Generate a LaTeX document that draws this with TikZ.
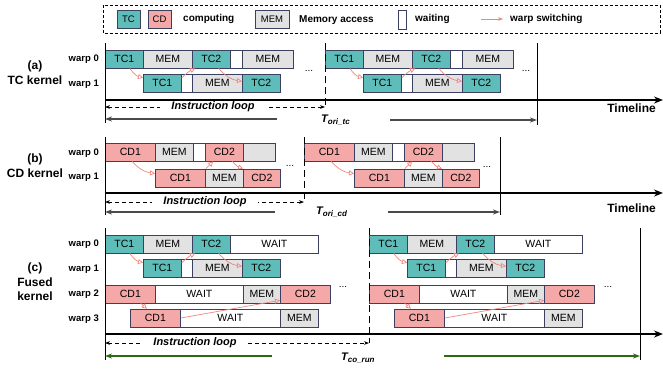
\documentclass[tikz,border=0pt]{standalone}
\usepackage{fontspec}
\setmainfont{Liberation Sans}
\usetikzlibrary{arrows.meta}
\definecolor{tccol}{HTML}{5FBDB9}
\definecolor{cdcol}{HTML}{F5A8A8}
\definecolor{memcol}{HTML}{E2E2E2}
\definecolor{edge}{HTML}{3C4060}
\definecolor{swcol}{HTML}{F2857E}
\definecolor{loopgreen}{HTML}{2E6A12}
\definecolor{loopgray}{HTML}{4A4A4A}
\newcommand{\tsub}[1]{\raisebox{-0.35ex}{\fontsize{8}{9}\selectfont #1}}
\tikzset{
  seg/.style={draw=edge, line width=0.8pt, anchor=west, minimum height=18pt, inner sep=0pt, font=\fontsize{10.5}{12}\selectfont},
  legbox/.style={draw=edge, line width=0.8pt, minimum height=18pt, inner sep=0pt, font=\fontsize{9.5}{11}\selectfont},
  legtext/.style={anchor=west, inner sep=0pt, font=\bfseries\fontsize{10}{12}\selectfont},
  warplbl/.style={anchor=east, inner sep=0pt, font=\bfseries\fontsize{9.5}{11}\selectfont},
  kernlbl/.style={align=center, inner sep=0pt, font=\bfseries\fontsize{12}{14.5}\selectfont},
  looplbl/.style={fill=white, inner xsep=11pt, inner ysep=1pt, font=\bfseries\itshape\fontsize{11}{13}\selectfont},
  tlbl/.style={anchor=west, inner sep=0pt, font=\bfseries\itshape\fontsize{11}{13}\selectfont},
  timelbl/.style={anchor=east, inner sep=0pt, font=\bfseries\fontsize{12}{14}\selectfont},
  dotlbl/.style={anchor=base, inner sep=0pt, font=\fontsize{10}{12}\selectfont},
  swarrow/.style={-{Triangle[open, length=5pt, width=5pt]}, draw=swcol, line width=0.7pt},
  axisline/.style={draw=black, line width=0.9pt},
  timeline/.style={draw=black, line width=2.2pt, -{Stealth[length=9pt, width=7pt]}},
  loopline/.style={line width=0.8pt, dash pattern=on 4pt off 3pt, {Stealth[length=5pt]}-{Stealth[length=5pt]}},
  startmark/.style={draw=black, line width=0.9pt, dash pattern=on 7pt off 4pt},
  endmark/.style={draw=black, line width=0.9pt},
  spanarrow/.style={line width=1.2pt, -{Stealth[length=7pt, width=5pt]}}
}

\begin{document}
\begin{tikzpicture}[x=1pt, y=-1pt]
  \useasboundingbox (0,0) rectangle (663,368);

  % legend
  \coordinate (lg-nw) at (103,5);
  \coordinate (lg-se) at (660,33);
  \draw[line width=0.8pt, dash pattern=on 3pt off 2pt] (lg-nw) rectangle (lg-se);
  \node[legbox, fill=tccol, minimum width=23pt] (lg-tc) at (128.5,19) {TC};
  \node[legbox, fill=cdcol, minimum width=23pt] (lg-cd) at (159.5,19) {CD};
  \node[legtext] (lg-comp) at (183,19) {computing};
  \node[legbox, fill=memcol, minimum width=34pt] (lg-mem) at (272,19) {MEM};
  \node[legtext] (lg-memtxt) at (299,20) {Memory access};
  \node[legbox, fill=white, minimum width=8pt, minimum height=19pt] (lg-wait) at (402,19.5) {};
  \node[legtext] (lg-waittxt) at (415,19) {waiting};
  \node[legtext] (lg-swtxt) at (510,19) {warp switching};
  \coordinate (lg-a1) at (481,19);
  \draw[swcol, line width=0.9pt, -{Stealth[length=5pt]}] (lg-a1) -- ([xshift=-7pt]lg-swtxt.west);

  % (a) TC kernel
  \node[kernlbl] (a-name) at (35,72.5) {(a)\\TC kernel};
  \node[warplbl] (a-w0) at (99,59) {warp 0};
  \node[warplbl] (a-w1) at (99,84) {warp 1};
  \foreach \sn/\dx in {1/105, 2/325} {
    \foreach \px/\pw/\pc/\pl/\pn in {0/38/tccol/TC1/tc1, 38/49/memcol/MEM/m1, 87/38/tccol/TC2/tc2, 125/12/white//w, 137/51/memcol/MEM/m2}
      \node[seg, fill=\pc, minimum width=\pw pt] (a\sn-w0\pn) at (\dx+\px,59) {\pl};
    \foreach \px/\pw/\pc/\pl/\pn in {38/38/tccol/TC1/tc1, 76/11/white//w, 87/50/memcol/MEM/m1, 137/38/tccol/TC2/tc2}
      \node[seg, fill=\pc, minimum width=\pw pt] (a\sn-w1\pn) at (\dx+\px,83) {\pl};
    \draw[swarrow] (a\sn-w0tc1.300) to[bend right=20] (a\sn-w1tc1.165);
    \draw[swarrow] (a\sn-w1tc1.15) to[bend left=10] (a\sn-w0tc2.210);
    \draw[swarrow] (a\sn-w0tc2.308) to[bend right=20] (a\sn-w1tc2.175);
  }
  \node[dotlbl] (a-dots1) at (309,71) {...};
  \node[dotlbl] (a-dots2) at (526,71) {...};
  \coordinate (a-top) at (105,43);
  \coordinate (a-org) at (105,100);
  \coordinate (a-bot) at (105,123);
  \coordinate (a-end) at (663,100);
  \draw[axisline] (a-top) -- (a-bot);
  \draw[timeline] (a-org) -- (a-end);
  \coordinate (a-m1) at (325,43);
  \coordinate (a-m2) at (325,108);
  \draw[startmark] (a-m1) -- (a-m2);
  \coordinate (a-e1) at (537,43);
  \coordinate (a-e2) at (537,125);
  \draw[endmark] (a-e1) -- (a-e2);
  \node[timelbl] (a-time) at (656,108) {Timeline};
  \coordinate (a-l1) at (105,107);
  \coordinate (a-l2) at (325,107);
  \draw[loopline] (a-l1) -- (a-l2);
  \node[looplbl] (a-loop) at (213,107) {Instruction loop};
  \node[tlbl] (a-t) at (321,120) {T\tsub{ori\_tc}};
  \coordinate (a-s1) at (277,119);
  \coordinate (a-s2) at (105,119);
  \coordinate (a-s3) at (390,120);
  \coordinate (a-s4) at (537,120);
  \draw[spanarrow, loopgray] (a-s1) -- (a-s2);
  \draw[spanarrow, loopgray] (a-s3) -- (a-s4);

  % (b) CD kernel
  \node[kernlbl] (b-name) at (35,165.5) {(b)\\CD kernel};
  \node[warplbl] (b-w0) at (99,153) {warp 0};
  \node[warplbl] (b-w1) at (99,177) {warp 1};
  \foreach \sn/\dx in {1/105, 2/304} {
    \foreach \px/\pw/\pc/\pl/\pn in {0/50/cdcol/CD1/cd1, 50/38/memcol/MEM/m1, 88/12/white//w, 100/38/cdcol/CD2/cd2, 138/32/memcol//m2}
      \node[seg, fill=\pc, minimum width=\pw pt] (b\sn-w0\pn) at (\dx+\px,152) {\pl};
    \foreach \px/\pw/\pc/\pl/\pn in {50/50/cdcol/CD1/cd1, 100/38/memcol/MEM/m1, 138/37/cdcol/CD2/cd2}
      \node[seg, fill=\pc, minimum width=\pw pt] (b\sn-w1\pn) at (\dx+\px,178) {\pl};
    \draw[swarrow] (b\sn-w0cd1.280) to[bend right=20] (b\sn-w1cd1.170);
    \draw[swarrow] (b\sn-w1cd1.north east) -- (b\sn-w0cd2.220);
    \draw[swarrow] (b\sn-w0cd2.310) to[bend right=15] (b\sn-w1cd2.north west);
  }
  \node[dotlbl] (b-dots1) at (290,166) {...};
  \node[dotlbl] (b-dots2) at (487,167) {...};
  \coordinate (b-top) at (105,137);
  \coordinate (b-org) at (105,193);
  \coordinate (b-bot) at (105,215);
  \coordinate (b-end) at (663,193);
  \draw[axisline] (b-top) -- (b-bot);
  \draw[timeline] (b-org) -- (b-end);
  \coordinate (b-m1) at (304,137);
  \coordinate (b-m2) at (304,201);
  \draw[startmark] (b-m1) -- (b-m2);
  \coordinate (b-e1) at (500,137);
  \coordinate (b-e2) at (500,215);
  \draw[endmark] (b-e1) -- (b-e2);
  \node[timelbl] (b-time) at (656,208) {Timeline};
  \coordinate (b-l1) at (105,202);
  \coordinate (b-l2) at (304,202);
  \draw[loopline] (b-l1) -- (b-l2);
  \node[looplbl] (b-loop) at (205,202) {Instruction loop};
  \node[tlbl] (b-t) at (316,212) {T\tsub{ori\_cd}};
  \coordinate (b-s1) at (275,212);
  \coordinate (b-s2) at (105,212);
  \coordinate (b-s3) at (388,212);
  \coordinate (b-s4) at (500,212);
  \draw[spanarrow, loopgray] (b-s1) -- (b-s2);
  \draw[spanarrow, loopgray] (b-s3) -- (b-s4);

  % (c) Fused kernel
  \node[kernlbl] (c-name) at (35,282) {(c)\\Fused\\kernel};
  \node[warplbl] (c-w0) at (99,244) {warp 0};
  \node[warplbl] (c-w1) at (99,269) {warp 1};
  \node[warplbl] (c-w2) at (99,294) {warp 2};
  \node[warplbl] (c-w3) at (99,319) {warp 3};
  \foreach \sn/\dx in {1/105, 2/369} {
    \foreach \px/\pw/\pc/\pl/\pn in {0/38/tccol/TC1/tc1, 38/49/memcol/MEM/m1, 87/38/tccol/TC2/tc2, 125/88/white/WAIT/w}
      \node[seg, fill=\pc, minimum width=\pw pt] (c\sn-w0\pn) at (\dx+\px,244) {\pl};
    \foreach \px/\pw/\pc/\pl/\pn in {38/38/tccol/TC1/tc1, 76/11/white//w, 87/50/memcol/MEM/m1, 137/38/tccol/TC2/tc2}
      \node[seg, fill=\pc, minimum width=\pw pt] (c\sn-w1\pn) at (\dx+\px,268) {\pl};
    \foreach \px/\pw/\pc/\pl/\pn in {0/50/cdcol/CD1/cd1, 50/88/white/WAIT/w, 138/37/memcol/MEM/m1, 175/50/cdcol/CD2/cd2}
      \node[seg, fill=\pc, minimum width=\pw pt] (c\sn-w2\pn) at (\dx+\px,294) {\pl};
    \foreach \px/\pw/\pc/\pl/\pn in {25/50/cdcol/CD1/cd1, 75/100/white/WAIT/w, 175/38/memcol/MEM/m1}
      \node[seg, fill=\pc, minimum width=\pw pt] (c\sn-w3\pn) at (\dx+\px,318) {\pl};
    \draw[swarrow] (c\sn-w0tc1.300) to[bend right=20] (c\sn-w1tc1.165);
    \draw[swarrow] (c\sn-w1tc1.15) to[bend left=10] (c\sn-w0tc2.210);
    \draw[swarrow] (c\sn-w0tc2.308) to[bend right=20] (c\sn-w1tc2.175);
    \draw[swarrow] (c\sn-w2cd1.318) -- (c\sn-w3cd1.132);
    \draw[swarrow] (c\sn-w3cd1.east) -- (c\sn-w2cd2.194);
  }
  \node[dotlbl] (c-dots1) at (343,287) {...};
  \node[dotlbl] (c-dots2) at (608,287) {...};
  \coordinate (c-top) at (105,228);
  \coordinate (c-org) at (105,334);
  \coordinate (c-bot) at (105,360);
  \coordinate (c-end) at (663,334);
  \draw[axisline] (c-top) -- (c-bot);
  \draw[timeline] (c-org) -- (c-end);
  \coordinate (c-m1) at (369,228);
  \coordinate (c-m2) at (369,343);
  \draw[startmark] (c-m1) -- (c-m2);
  \coordinate (c-e1) at (640,228);
  \coordinate (c-e2) at (640,360);
  \draw[endmark] (c-e1) -- (c-e2);
  \coordinate (c-l1) at (105,343);
  \coordinate (c-l2) at (369,343);
  \draw[loopline] (c-l1) -- (c-l2);
  \node[looplbl] (c-loop) at (195,343) {Instruction loop};
  \node[tlbl] (c-t) at (341,358) {T\tsub{co\_run}};
  \coordinate (c-s1) at (272,356);
  \coordinate (c-s2) at (105,356);
  \coordinate (c-s3) at (444,356);
  \coordinate (c-s4) at (640,356);
  \draw[spanarrow, loopgreen] (c-s1) -- (c-s2);
  \draw[spanarrow, loopgreen] (c-s3) -- (c-s4);
\end{tikzpicture}
\end{document}
